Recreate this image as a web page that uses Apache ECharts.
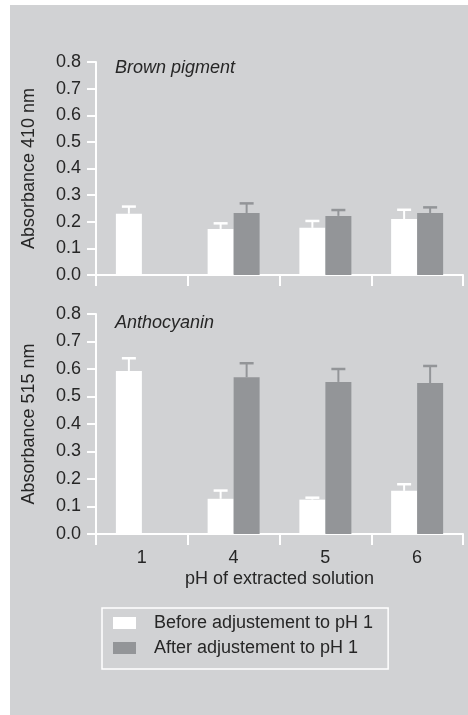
<!DOCTYPE html>
<html>
<head>
<meta charset="utf-8">
<script src="https://cdn.jsdelivr.net/npm/echarts@6/dist/echarts.min.js"></script>
<style>
  html, body { margin: 0; padding: 0; background: #ffffff; }
  #chart { width: 468px; height: 715px; }
</style>
</head>
<body>
<div id="chart"></div>
<script>
// pH of the extracted solution
const categories = ['1', '4', '5', '6'];
const seriesNames = ['Before adjustement to pH 1', 'After adjustement to pH 1'];

// Brown pigment, absorbance at 410 nm (mean, error)
const brownBefore    = [0.230, 0.173, 0.177, 0.210];
const brownBeforeErr = [0.027, 0.021, 0.026, 0.035];
const brownAfter     = [null, 0.233, 0.222, 0.233];
const brownAfterErr  = [null, 0.036, 0.022, 0.021];

// Anthocyanin, absorbance at 515 nm (mean, error)
const anthoBefore    = [0.593, 0.128, 0.125, 0.157];
const anthoBeforeErr = [0.046, 0.030, 0.007, 0.024];
const anthoAfter     = [null, 0.570, 0.553, 0.549];
const anthoAfterErr  = [null, 0.051, 0.047, 0.062];

const yTicks = { min: 0, max: 0.8, interval: 0.1 };

const WHITE = '#ffffff';
const GREY = '#939598';
const TEXT = '#262626';
const FONT = 'Liberation Sans, Arial, sans-serif';
const BAR_W = 26;

function errorSeries(gridIdx, means, errs, side, color) {
  const data = means.map((m, i) => (m == null ? null : [i, m, errs[i]])).filter(d => d);
  return {
    type: 'custom',
    xAxisIndex: gridIdx,
    yAxisIndex: gridIdx,
    z: 3,
    silent: true,
    data: data,
    renderItem: function (params, api) {
      const idx = api.value(0), m = api.value(1), e = api.value(2);
      const base = api.coord([idx, m]);
      const top = api.coord([idx, m + e]);
      const x = base[0] + side * BAR_W / 2;
      const style = { stroke: color, lineWidth: 2, fill: null };
      return {
        type: 'group',
        children: [
          { type: 'line', shape: { x1: x, y1: base[1], x2: x, y2: top[1] }, style: style },
          { type: 'line', shape: { x1: x - 7, y1: top[1], x2: x + 7, y2: top[1] }, style: { stroke: color, lineWidth: 2.5 } }
        ]
      };
    }
  };
}

function xAxis(gridIdx, showLabels) {
  return {
    type: 'category',
    gridIndex: gridIdx,
    data: categories,
    boundaryGap: true,
    axisLine: { lineStyle: { color: WHITE, width: 2 } },
    axisTick: { show: true, interval: 0, length: 11, lineStyle: { color: WHITE, width: 2 } },
    axisLabel: { show: showLabels, color: TEXT, fontSize: 18, fontFamily: FONT, margin: 15 },
    name: showLabels ? 'pH of extracted solution' : '',
    nameLocation: 'middle',
    nameGap: 36,
    nameTextStyle: { color: TEXT, fontSize: 18, fontFamily: FONT },
    splitLine: { show: false }
  };
}

function yAxis(gridIdx, name) {
  return {
    type: 'value',
    gridIndex: gridIdx,
    min: yTicks.min,
    max: yTicks.max,
    interval: yTicks.interval,
    axisLine: { show: true, lineStyle: { color: WHITE, width: 2 } },
    axisTick: { show: true, length: 9, lineStyle: { color: WHITE, width: 2 } },
    axisLabel: { color: TEXT, fontSize: 18, fontFamily: FONT, margin: 15, formatter: v => v.toFixed(1) },
    splitLine: { show: false },
    name: name,
    nameLocation: 'middle',
    nameRotate: 90,
    nameGap: 58,
    nameTextStyle: { color: TEXT, fontSize: 18, fontFamily: FONT }
  };
}

function barSeries(gridIdx, name, values, color) {
  return {
    type: 'bar',
    name: name,
    xAxisIndex: gridIdx,
    yAxisIndex: gridIdx,
    data: values,
    barWidth: BAR_W,
    barGap: '0%',
    itemStyle: { color: color },
    silent: true
  };
}

const chart = echarts.init(document.getElementById('chart'), null, { renderer: 'canvas' });

chart.setOption({
  animation: false,
  backgroundColor: WHITE,
  graphic: [{
    type: 'rect', z: -100, silent: true,
    shape: { x: 10, y: 5, width: 458, height: 710 },
    style: { fill: '#d1d2d4' }
  }],
  title: [
    { text: 'Brown pigment', left: 115, top: 59, padding: 0,
      textStyle: { color: TEXT, fontSize: 18, fontStyle: 'italic', fontWeight: 'normal', fontFamily: FONT } },
    { text: 'Anthocyanin', left: 115, top: 314, padding: 0,
      textStyle: { color: TEXT, fontSize: 18, fontStyle: 'italic', fontWeight: 'normal', fontFamily: FONT } }
  ],
  legend: {
    data: seriesNames,
    orient: 'vertical',
    left: 102,
    top: 608,
    padding: [6, 15, 12, 11],
    itemGap: 7,
    itemWidth: 23,
    itemHeight: 12,
    icon: 'rect',
    borderColor: WHITE,
    borderWidth: 1.5,
    selectedMode: false,
    textStyle: { color: TEXT, fontSize: 18, fontFamily: FONT, padding: [0, 0, 0, 13] }
  },
  grid: [
    { left: 96, right: 5, top: 62, bottom: 440 },
    { left: 96, right: 5, top: 314, bottom: 181 }
  ],
  xAxis: [xAxis(0, false), xAxis(1, true)],
  yAxis: [yAxis(0, 'Absorbance 410 nm'), yAxis(1, 'Absorbance 515 nm')],
  series: [
    barSeries(0, seriesNames[0], brownBefore, WHITE),
    barSeries(0, seriesNames[1], brownAfter, GREY),
    barSeries(1, seriesNames[0], anthoBefore, WHITE),
    barSeries(1, seriesNames[1], anthoAfter, GREY),
    errorSeries(0, brownBefore, brownBeforeErr, -1, WHITE),
    errorSeries(0, brownAfter, brownAfterErr, 1, GREY),
    errorSeries(1, anthoBefore, anthoBeforeErr, -1, WHITE),
    errorSeries(1, anthoAfter, anthoAfterErr, 1, GREY)
  ]
});
</script>
</body>
</html>
